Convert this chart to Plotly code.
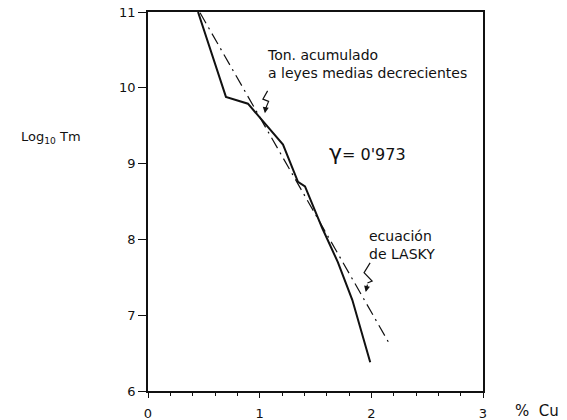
import plotly.graph_objects as go

# Accumulated tonnage at decreasing mean grades (solid line)
cu_acum = [0.448, 0.698, 0.895, 1.056, 1.209, 1.343, 1.406, 1.56, 1.70, 1.83, 1.99]
log_t_acum = [11.0, 9.88, 9.79, 9.51, 9.25, 8.76, 8.70, 8.15, 7.70, 7.20, 6.38]

# Lasky equation (dash-dot line)
cu_lasky = [0.466, 1.316, 2.167]
log_t_lasky = [10.99, 8.80, 6.61]

x_ticks = [0, 1, 2, 3]
y_ticks = [6, 7, 8, 9, 10, 11]
y_labels = ["6", "7", "8", "9", "10", "11"]

font_family = "DejaVu Sans, Verdana, sans-serif"
ink = "#111111"

fig = go.Figure()
fig.add_trace(go.Scatter(x=cu_lasky, y=log_t_lasky, mode="lines",
                         line=dict(color=ink, width=1.2, dash="12px,5px,2px,5px"),
                         showlegend=False, hoverinfo="skip"))
fig.add_trace(go.Scatter(x=cu_acum, y=log_t_acum, mode="lines",
                         line=dict(color=ink, width=2),
                         showlegend=False, hoverinfo="skip"))

fig.update_layout(
    width=567, height=420,
    margin=dict(l=148, r=84, t=12, b=29, autoexpand=False),
    paper_bgcolor="white", plot_bgcolor="white",
    font=dict(family=font_family, size=13, color=ink),
    xaxis=dict(range=[0, 3], tickvals=x_ticks, ticktext=[str(v) for v in x_ticks],
               showgrid=False, zeroline=False, showline=True, linecolor=ink,
               linewidth=1.5, mirror=True, ticks="outside", ticklen=5,
               tickcolor=ink, tickwidth=1.2, automargin=False,
               ticklabelstandoff=5,
               minor=dict(dtick=0.2, ticks="outside", ticklen=3, tickcolor=ink,
                          showgrid=False),
               tickfont=dict(size=13)),
    yaxis=dict(range=[6, 11], tickvals=y_ticks, ticktext=y_labels,
               showgrid=False, zeroline=False, showline=True, linecolor=ink,
               linewidth=1.5, mirror=True, ticks="outside", ticklen=8,
               tickcolor=ink, tickwidth=1.2, automargin=False,
               tickfont=dict(size=13)),
)

fig.add_annotation(xref="paper", yref="paper", x=-0.29, y=0.67,
                   text="Log<sub>10</sub> Tm", showarrow=False,
                   font=dict(size=13), xanchor="center", yanchor="middle")
fig.add_annotation(xref="paper", yref="paper", x=1.161, y=-0.053,
                   text="%\u00a0\u00a0Cu", showarrow=False, font=dict(size=15),
                   xanchor="center", yanchor="middle")
fig.add_annotation(xref="paper", yref="paper", x=0.35, y=0.862,
                   text="Ton. acumulado<br>a leyes medias decrecientes",
                   showarrow=False, align="left", font=dict(size=14),
                   xanchor="left", yanchor="middle")
fig.add_annotation(xref="paper", yref="paper", x=0.535, y=0.63,
                   text="<span style='font-size:22px'>γ</span>= 0'973",
                   showarrow=False, font=dict(size=16), xanchor="left",
                   yanchor="middle")
fig.add_annotation(xref="paper", yref="paper", x=0.655, y=0.385,
                   text="ecuación<br>de LASKY", showarrow=False, align="left",
                   font=dict(size=14), xanchor="left", yanchor="middle")

# squiggle pointers
fig.add_shape(type="path", xref="paper", yref="paper",
              path="M 0.357 0.792 L 0.343 0.77 L 0.36 0.764 L 0.352 0.747",
              line=dict(color=ink, width=1.2))
fig.add_annotation(xref="paper", yref="paper", x=0.349, y=0.733, ax=1, ay=-7,
                   text="", showarrow=True,
                   arrowhead=2, arrowsize=1, arrowwidth=1.2, arrowcolor=ink)
fig.add_shape(type="path", xref="paper", yref="paper",
              path="M 0.663 0.338 L 0.645 0.312 L 0.669 0.29 L 0.655 0.285",
              line=dict(color=ink, width=1.2))
fig.add_annotation(xref="paper", yref="paper", x=0.65, y=0.261, ax=2, ay=-9,
                   text="", showarrow=True,
                   arrowhead=2, arrowsize=1, arrowwidth=1.2, arrowcolor=ink)

fig.write_html("out.html")
